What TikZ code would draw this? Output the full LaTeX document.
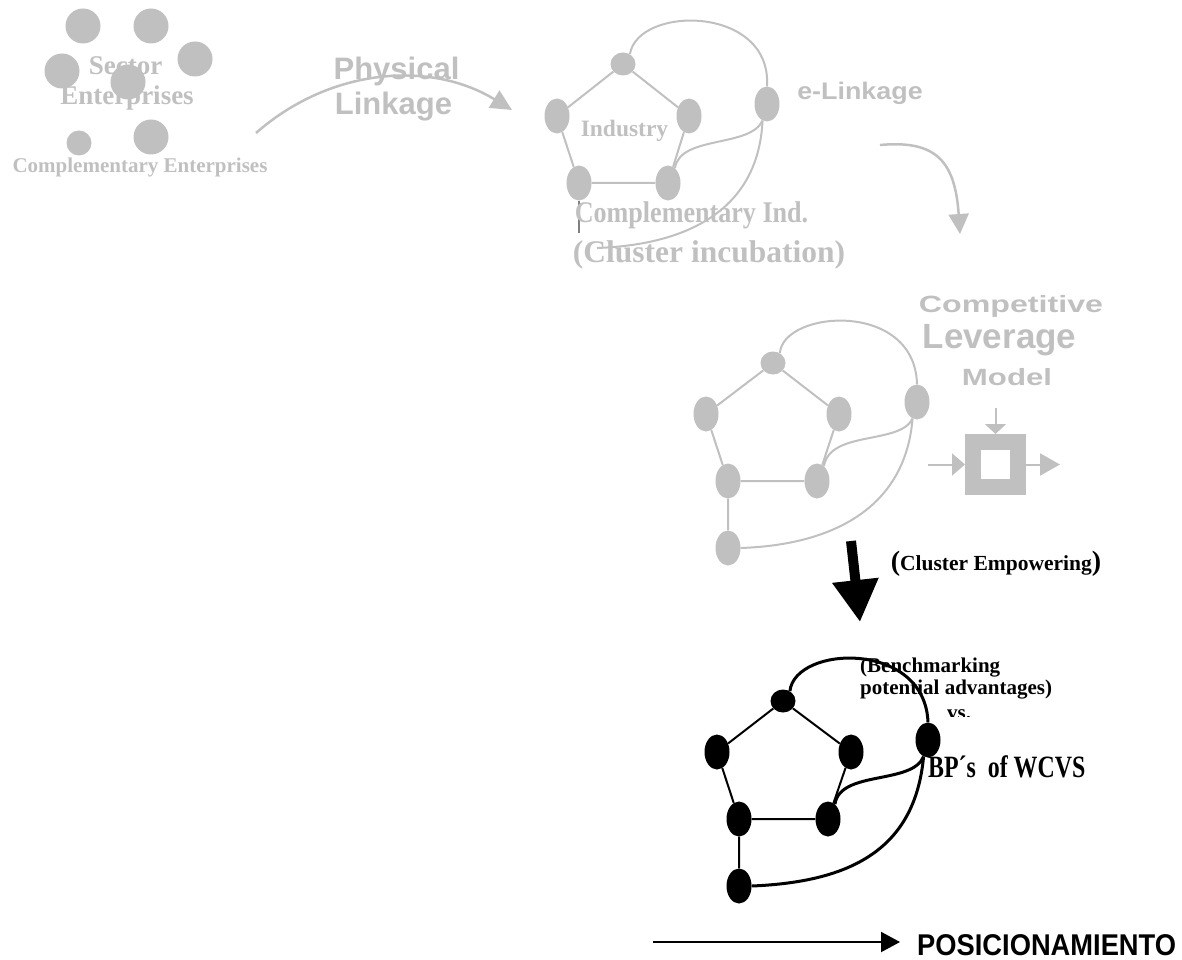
\documentclass[tikz,border=0pt]{standalone}
\usepackage{fontspec}
\setmainfont{Liberation Serif}
\setsansfont{Liberation Sans}
\usetikzlibrary{shapes.geometric,arrows.meta}
\definecolor{lg}{RGB}{192,192,192}
\definecolor{dg}{RGB}{128,128,128}
\newcommand{\fs}[1]{\fontsize{#1}{#1}\selectfont}
\tikzset{
  dot/.style={circle,fill=lg,inner sep=0pt,minimum size=#1},
  gnode/.style={ellipse,fill=lg,inner sep=0pt,minimum width=25pt,minimum height=35pt},
  gtopnode/.style={ellipse,fill=lg,inner sep=0pt,minimum width=25pt,minimum height=23pt},
  bnode/.style={ellipse,fill=black,inner sep=0pt,minimum width=25pt,minimum height=35pt},
  btopnode/.style={ellipse,fill=black,inner sep=0pt,minimum width=25pt,minimum height=23pt},
  gedge/.style={draw=lg,line width=2pt},
  gcurve/.style={draw=lg,line width=2pt},
  bedge/.style={draw=black,line width=2pt},
  bcurve/.style={draw=black,line width=3pt},
  txt/.style={anchor=base,inner sep=0pt},
  gserif/.style={txt,text=lg,font=\bfseries\rmfamily},
  gsans/.style={txt,text=lg,font=\bfseries\sffamily},
  bserif/.style={txt,text=black,font=\bfseries\rmfamily},
  garrow/.style={draw=lg,line width=2.5pt,-{Triangle[length=#1,width=20pt]}},
}
\begin{document}
\begin{tikzpicture}[x=1pt,y=-1pt]
\useasboundingbox (0,0) rectangle (1182,960);

% ---------- sector enterprises ----------
\node[gserif] (sec1) at (125.5,75) {\fs{27}Sector};
\node[gserif] (sec2) at (127,105) {\fs{27}Enterprises};
\node[dot=35pt] (s1) at (83,26) {};
\node[dot=35pt] (s2) at (151,26) {};
\node[dot=35pt] (s3) at (195,59) {};
\node[dot=35pt] (s4) at (62,71) {};
\node[dot=35pt] (s5) at (128,82) {};
\node[dot=25pt] (s6) at (79,143) {};
\node[dot=35pt] (s7) at (151,137) {};
\node[gserif] (compent) at (140,173) {\fs{21}Complementary Enterprises};

% ---------- physical linkage ----------
\node[gsans] (phys1) at (396.5,80) {\fs{31}Physical};
\node[gsans] (phys2) at (393.5,115) {\fs{31}Linkage};
\coordinate (pl0) at (256,133);
\coordinate (pl1) at (512,110);
\draw[garrow=21pt] (pl0) .. controls (330,68) and (430,60) .. (pl1);

% ---------- industry network ----------
\node[gtopnode] (it) at (623,64) {};
\node[gnode] (il) at (557,116) {};
\node[gnode] (ir) at (689,116) {};
\node[gnode] (ibl) at (579,183) {};
\node[gnode] (ibr) at (668,183) {};
\node[gnode] (ix) at (767,104) {};
\coordinate (ic) at (597,248);
\coordinate (ivl) at (579,233);
\node[gserif] (ind) at (624.5,137) {\fs{23.5}Industry};
\draw[gedge] (it) -- (il) (it) -- (ir) (il) -- (ibl) (ir) -- (ibr) (ibl) -- (ibr);
\draw[draw=dg,line width=1.5pt] (ibl.south) -- (ivl);
\node[gserif] (compind) at (691.5,222) {\fs{30}\scalebox{0.87}[1]{Complementary Ind.}};
\node[gserif] (incub) at (709,262) {\fs{31.5}(Cluster incubation)};
\draw[gcurve] (it.55) .. controls (638,5) and (772,5) .. (ix.north);
\draw[gcurve] (ix.255) .. controls (750,148) and (680,135) .. (ibr.65);
\draw[gcurve] (ix.255) .. controls (758,215) and (680,245) .. (ic);
\node[gsans] (elink) at (860,100) {\fs{24}\scalebox{1.12}[1]{e-Linkage}};

% ---------- arrow towards the leverage model ----------
\coordinate (el0) at (880,145);
\coordinate (el1) at (960,234);
\draw[garrow=20pt] (el0) .. controls (935,140) and (955,160) .. (el1);

% ---------- competitive leverage model ----------
\node[gsans] (comp1) at (1011,312) {\fs{23.5}\scalebox{1.37}[1]{Competitive}};
\node[gsans] (comp2) at (999.5,348) {\fs{35}Leverage};
\node[gsans] (comp3) at (1007,385) {\fs{23.5}\scalebox{1.33}[1]{Model}};

\node[draw=lg,line width=16pt,fill=white,minimum size=45pt,inner sep=0pt,outer sep=8pt] (box) at (995.5,464.5) {};
\coordinate (bin) at (928,464.5);
\coordinate (bout) at (1060,464.5);
\coordinate (btop) at (995.5,408);
\draw[draw=lg,line width=2pt,-{Triangle[length=13pt,width=22pt]}] (bin) -- (box.west);
\draw[draw=lg,line width=2pt,-{Triangle[length=20pt,width=22pt]}] (box.east) -- (bout);
\draw[draw=lg,line width=2pt,-{Triangle[length=10pt,width=21pt]}] (btop) -- (box.north);

% ---------- cluster network (grey) ----------
\node[gtopnode] (ct) at (773,363) {};
\node[gnode] (cl) at (706,414) {};
\node[gnode] (cr) at (839,414) {};
\node[gnode] (cbl) at (728,481) {};
\node[gnode] (cbr) at (817,481) {};
\node[gnode] (cx) at (917,402) {};
\node[gnode] (cb) at (728,548) {};
\draw[gedge] (ct) -- (cl) (ct) -- (cr) (cl) -- (cbl) (cr) -- (cbr) (cbl) -- (cbr) (cbl) -- (cb);
\draw[gcurve] (ct.55) .. controls (783,310) and (915,300) .. (cx.north);
\draw[gcurve] (cx.255) .. controls (900,445) and (830,430) .. (cbr.65);
\draw[gcurve] (cx.255) .. controls (905,510) and (830,545) .. (cb.east);

% ---------- empowering arrow ----------
\coordinate (ce0) at (851,541);
\coordinate (ce1) at (860,622);
\draw[line width=10pt,-{Triangle[length=42pt,width=44pt]}] (ce0) -- (ce1);
\node[bserif] (emp) at (996,570) {\fs{28}(\fs{21.5}Cluster Empowering\fs{28})};

% ---------- cluster network (black) ----------
\node[bserif,anchor=base west] (bench1) at (860,672) {\fs{21}(Benchmarking};
\node[bserif,anchor=base west] (bench2) at (860,694) {\fs{21}potential advantages)};
\begin{scope}
  \clip (930,700) rectangle (990,716.5);
  \node[bserif,anchor=base west] (vs) at (947,719.5) {\fs{21}vs.};
\end{scope}
\node[bserif,anchor=base west] (bps) at (928,777) {\fs{31}\scalebox{0.77}[1]{BP´s\ \ of WCVS}};

\node[btopnode] (bt) at (783,701) {};
\node[bnode] (bl) at (717,752) {};
\node[bnode] (br) at (851,752) {};
\node[bnode] (bbl) at (739,819) {};
\node[bnode] (bbr) at (828,819) {};
\node[bnode] (bx) at (928,740) {};
\node[bnode] (bb) at (739,886) {};
\draw[bedge] (bt) -- (bl) (bt) -- (br) (bl) -- (bbl) (br) -- (bbr) (bbl) -- (bbr) (bbl) -- (bb);
\draw[bcurve] (bt.55) .. controls (795,645) and (925,640) .. (bx.north);
\draw[bcurve] (bx.255) .. controls (912,785) and (840,770) .. (bbr.65);
\draw[bcurve] (bx.255) .. controls (915,850) and (850,882) .. (bb.east);

% ---------- positioning axis ----------
\coordinate (pos0) at (653,942);
\coordinate (pos1) at (900,942);
\draw[line width=2pt,-{Triangle[length=19pt,width=20pt]}] (pos0) -- (pos1);
\node[txt,anchor=base west,font=\bfseries\sffamily] (posn) at (917,955) {\fs{30}\scalebox{0.91}[1]{POSICIONAMIENTO}};
\end{tikzpicture}
\end{document}
